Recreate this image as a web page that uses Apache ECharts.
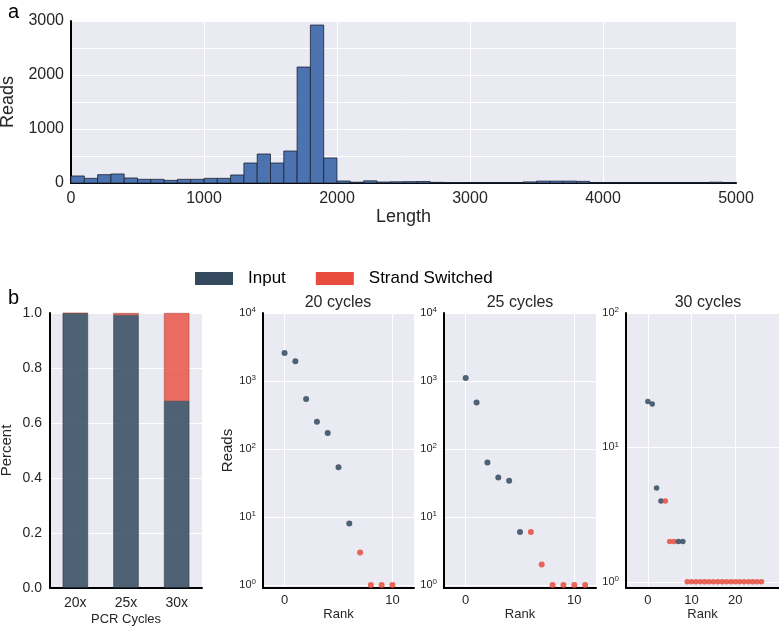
<!DOCTYPE html>
<html><head><meta charset="utf-8">
<script src="https://cdn.jsdelivr.net/npm/echarts@6/dist/echarts.min.js"></script>
<style>html,body{margin:0;padding:0;background:#fff}#c{width:779px;height:629px}</style>
</head><body><div id="c"></div>
<script>
// ---- Panel a: read length histogram (bins of 100 from 0 to 5000) ----
const binStarts = Array.from({length: 50}, (_, i) => i * 100);
const binReads = [130, 86, 154, 167, 93, 68, 68, 49, 68, 68,
                  86, 86, 148, 370, 537, 370, 592, 2147, 2925, 463,
                  37, 15, 40, 18, 22, 25, 28, 12, 8, 8,
                  5, 5, 5, 5, 20, 35, 35, 35, 30, 10,
                  3, 3, 3, 3, 3, 3, 3, 3, 15, 3];
const binWidth = 100;

// ---- Panel b left: fraction per PCR cycle ----
const pcrCats = ['20x', '25x', '30x'];
const inputFrac = [0.999, 0.992, 0.68];
const switchedFrac = [0.001, 0.008, 0.32];

// ---- Panel b: rank plots ----
const ranks20 = [0, 1, 2, 3, 4, 5, 6, 7, 8, 9, 10];
const reads20 = [2590, 1955, 545, 252, 172, 54, 8, 3, 1, 1, 1];
const kind20  = ['I','I','I','I','I','I','I','S','S','S','S'];

const ranks25 = [0, 1, 2, 3, 4, 5, 6, 7, 8, 9, 10, 11];
const reads25 = [1107, 481, 63, 38, 34, 6, 6, 2, 1, 1, 1, 1];
const kind25  = ['I','I','I','I','I','I','S','S','S','S','S','S'];

const ranks30 = [0,1,2,3,4,5,6,7,8,9,10,11,12,13,14,15,16,17,18,19,20,21,22,23,24,25,26];
const reads30 = [22, 21, 5, 4, 4, 2, 2, 2, 2, 1,1,1,1,1,1,1,1,1,1,1,1,1,1,1,1,1,1];
const kind30  = ['I','I','I','I','S','S','S','I','I','S','S','S','S','S','S','S','S','S','S','S','S','S','S','S','S','S','S'];

const legendNames = ['Input', 'Strand Switched'];

const FONT = 'Liberation Sans';
const TXT = '#262626';
const BG = '#eaeaf2';
const C_IN = '#34495e';
const C_SW = '#e74c3c';
const colorOf = k => k === 'I' ? C_IN : C_SW;

const chart = echarts.init(document.getElementById('c'), null, {renderer: 'canvas'});

const grids = [
  {left: 71, top: 21, width: 665, height: 162},
  {left: 50, top: 313, width: 152, height: 275},
  {left: 263, top: 313, width: 151, height: 275},
  {left: 444, top: 313, width: 152, height: 275},
  {left: 626, top: 313, width: 153, height: 275}
].map(g => Object.assign({backgroundColor: BG, show: true, borderWidth: 0, containLabel: false, outerBoundsMode: 'none'}, g));

const axisLineBlack = {show: true, onZero: false, lineStyle: {color: '#000', width: 2}};
const whiteSplit = {show: true, lineStyle: {color: '#fff', width: 1}};

function logLabel(v) {
  const l = Math.log10(v);
  const e = Math.round(l);
  if (Math.abs(l - e) > 1e-6) return '';
  return '{b|10}{s|' + e + '}';
}
const logRich = {
  b: {fontSize: 11, fontFamily: FONT, color: TXT, lineHeight: 14},
  s: {fontSize: 8, fontFamily: FONT, color: TXT, verticalAlign: 'top', lineHeight: 14, padding: [0, 0, 6, 0]}
};

function rankX(gi, min, max, ticks) {
  return {
    type: 'value', gridIndex: gi, min: min, max: max,
    name: 'Rank', nameLocation: 'middle', nameGap: 19,
    nameTextStyle: {fontFamily: FONT, fontSize: 13, color: TXT},
    axisLine: axisLineBlack, axisTick: {show: false, customValues: ticks},
    axisLabel: {customValues: ticks, fontFamily: FONT, fontSize: 13, color: TXT, margin: 6, formatter: v => String(v)},
    splitLine: whiteSplit
  };
}
function rankY(gi, max, withName) {
  return {
    type: 'log', logBase: 10, gridIndex: gi, min: 0.9, max: max,
    name: withName ? 'Reads' : '', nameLocation: 'middle', nameGap: 28,
    nameTextStyle: {fontFamily: FONT, fontSize: 15, color: TXT},
    axisLine: axisLineBlack, axisTick: {show: false},
    axisLabel: {formatter: logLabel, rich: logRich, margin: 7},
    splitLine: whiteSplit
  };
}
function rankData(r, v, k) {
  return r.map((x, i) => ({value: [x, v[i]], itemStyle: {color: colorOf(k[i])}}));
}

const option = {
  animation: false,
  backgroundColor: '#fff',
  textStyle: {fontFamily: FONT},
  title: [
    {text: 'a', left: 3, top: -3, textStyle: {fontFamily: FONT, fontSize: 20, fontWeight: 'normal', color: '#000'}},
    {text: 'b', left: 3, top: 283, textStyle: {fontFamily: FONT, fontSize: 20, fontWeight: 'normal', color: '#000'}},
    {text: '20 cycles', left: 333, top: 290, textAlign: 'center', textStyle: {fontFamily: FONT, fontSize: 16, fontWeight: 'normal', color: TXT}},
    {text: '25 cycles', left: 515, top: 290, textAlign: 'center', textStyle: {fontFamily: FONT, fontSize: 16, fontWeight: 'normal', color: TXT}},
    {text: '30 cycles', left: 703, top: 290, textAlign: 'center', textStyle: {fontFamily: FONT, fontSize: 16, fontWeight: 'normal', color: TXT}}
  ],
  legend: {
    left: 190, top: 265, itemWidth: 38, itemHeight: 13, itemGap: 30, icon: 'rect',
    data: [
      {name: legendNames[0], itemStyle: {color: C_IN, opacity: 1, borderWidth: 0}},
      {name: legendNames[1], itemStyle: {color: C_SW, opacity: 1, borderWidth: 0}}
    ],
    textStyle: {fontFamily: FONT, fontSize: 17, color: '#000', padding: [0, 0, 0, 10]}
  },
  grid: grids,
  xAxis: [
    {type: 'value', gridIndex: 0, min: 0, max: 5000, interval: 1000,
     name: 'Length', nameLocation: 'middle', nameGap: 20,
     nameTextStyle: {fontFamily: FONT, fontSize: 18, color: TXT},
     axisLine: axisLineBlack, axisTick: {show: false},
     axisLabel: {fontFamily: FONT, fontSize: 16, color: TXT, margin: 8, formatter: v => String(v)},
     splitLine: whiteSplit},
    {type: 'category', gridIndex: 1, data: pcrCats,
     name: 'PCR Cycles', nameLocation: 'middle', nameGap: 25,
     nameTextStyle: {fontFamily: FONT, fontSize: 13, color: TXT},
     axisLine: axisLineBlack, axisTick: {show: false},
     axisLabel: {fontFamily: FONT, fontSize: 14, color: TXT, margin: 8},
     splitLine: {show: false}},
    rankX(2, -2, 12, [0, 10]),
    rankX(3, -2, 12, [0, 10]),
    rankX(4, -5, 30, [0, 10, 20])
  ],
  yAxis: [
    {type: 'value', gridIndex: 0, min: 0, max: 3000, interval: 500,
     name: 'Reads', nameLocation: 'middle', nameGap: 46,
     nameTextStyle: {fontFamily: FONT, fontSize: 18, color: TXT},
     axisLine: axisLineBlack, axisTick: {show: false},
     axisLabel: {fontFamily: FONT, fontSize: 16, color: TXT, margin: 7,
                 formatter: v => (v % 1000 === 0 ? String(v) : '')},
     splitLine: whiteSplit},
    {type: 'value', gridIndex: 1, min: 0, max: 1, interval: 0.2,
     name: 'Percent', nameLocation: 'middle', nameGap: 36,
     nameTextStyle: {fontFamily: FONT, fontSize: 15, color: TXT},
     axisLine: axisLineBlack, axisTick: {show: false},
     axisLabel: {fontFamily: FONT, fontSize: 14, color: TXT, margin: 8, formatter: v => v.toFixed(1)},
     splitLine: whiteSplit},
    rankY(2, 10000, true),
    rankY(3, 10000, false),
    rankY(4, 100, false)
  ],
  series: [
    {type: 'custom', xAxisIndex: 0, yAxisIndex: 0,
     data: binStarts.map((s, i) => [s, binReads[i]]),
     renderItem: function (params, api) {
       const x0 = api.value(0), v = api.value(1);
       const p0 = api.coord([x0, v]);
       const p1 = api.coord([x0 + binWidth, 0]);
       return {type: 'rect',
         shape: {x: p0[0], y: p0[1], width: p1[0] - p0[0], height: p1[1] - p0[1]},
         style: {fill: '#4c72b0', stroke: '#1b2233', lineWidth: 0.8}};
     }},
    {type: 'bar', name: legendNames[0], xAxisIndex: 1, yAxisIndex: 1, stack: 'pcr',
     data: inputFrac, barWidth: '50%',
     itemStyle: {color: C_IN, opacity: 0.85, borderColor: '#222', borderWidth: 0.5}},
    {type: 'bar', name: legendNames[1], xAxisIndex: 1, yAxisIndex: 1, stack: 'pcr',
     data: switchedFrac, barWidth: '50%',
     itemStyle: {color: C_SW, opacity: 0.8, borderColor: '#8a2a20', borderWidth: 0.5}},
    {type: 'scatter', xAxisIndex: 2, yAxisIndex: 2, symbolSize: 6,
     itemStyle: {opacity: 0.85}, data: rankData(ranks20, reads20, kind20)},
    {type: 'scatter', xAxisIndex: 3, yAxisIndex: 3, symbolSize: 6,
     itemStyle: {opacity: 0.85}, data: rankData(ranks25, reads25, kind25)},
    {type: 'scatter', xAxisIndex: 4, yAxisIndex: 4, symbolSize: 5.5,
     itemStyle: {opacity: 0.85}, data: rankData(ranks30, reads30, kind30)}
  ]
};
chart.setOption(option);
</script>
</body></html>
